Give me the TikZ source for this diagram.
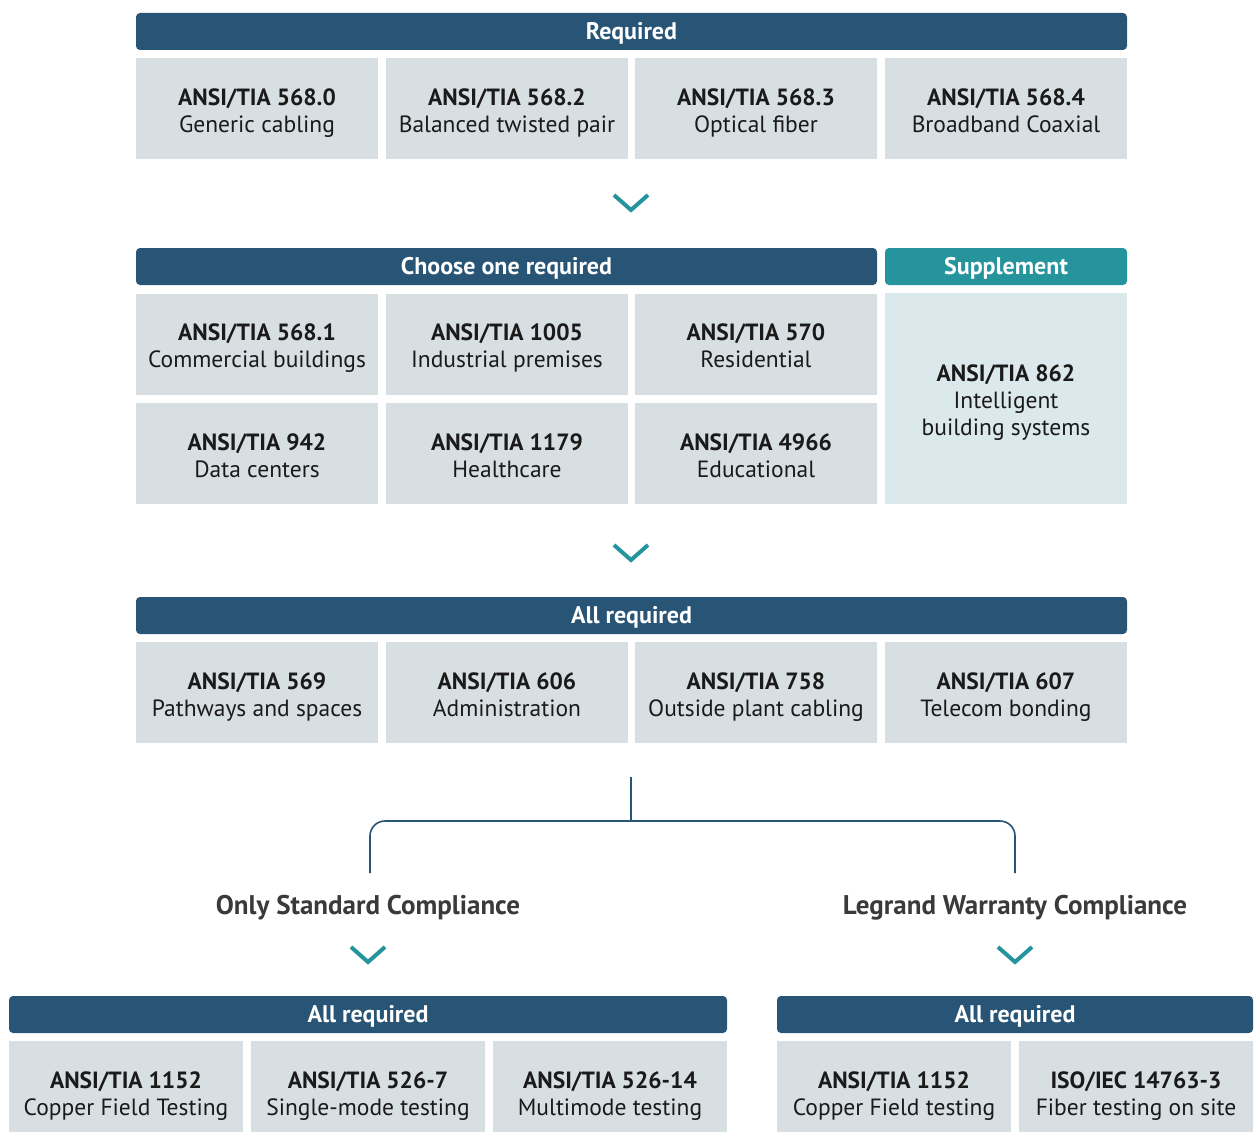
\documentclass[tikz,border=0pt]{standalone}
\usepackage{fontspec}
\setmainfont{PT Sans}
\usetikzlibrary{calc}
\definecolor{hdrblue}{HTML}{285475}
\definecolor{suppteal}{HTML}{26949C}
\definecolor{boxgray}{HTML}{D8DFE2}
\definecolor{boxlight}{HTML}{DCE9EC}
\definecolor{txtdark}{HTML}{1A1A1A}
\definecolor{lbldark}{HTML}{3A3A3A}
\newcommand{\topstrut}{\rule{0pt}{27pt}}
\newcommand{\botstrut}{\rule[-7pt]{0pt}{7pt}}
\newcommand{\stdtxt}[2]{\topstrut\textbf{#1}\\#2\botstrut}
\tikzset{
  header/.style={
    rectangle,
    fill=hdrblue,
    text=white,
    minimum height=37pt,
    inner sep=0pt,
    text height=17pt, text depth=1pt,
    rounded corners=4pt,
    font=\fontsize{24}{27}\selectfont\bfseries},
  stdbox/.style={
    rectangle,
    fill=boxgray,
    text=txtdark,
    minimum width=242pt,
    minimum height=101pt,
    inner sep=0pt,
    align=center,
    font=\fontsize{23.5}{27}\selectfont},
  testbox/.style={stdbox, minimum width=234pt},
  chevron/.style={draw=suppteal, line width=4pt, line join=miter},
  bracket/.style={draw=hdrblue, line width=1.6pt, rounded corners=15pt},
  choice/.style={anchor=base, text=lbldark, font=\fontsize{27}{30}\selectfont\bfseries},
}
\tikzset{>=latex}

\begin{document}
\begin{tikzpicture}[x=1pt,y=-1pt]
\useasboundingbox (0,0) rectangle (1259,1132);
\clip (0,0) rectangle (1259,1132);

% required
\node[header, minimum width=991pt] at (631.5,31.5) (req) {Required};
\node[stdbox] at (257,108.5) (s0) {\stdtxt{ANSI/TIA 568.0}{Generic cabling}};
\node[stdbox] at (507,108.5) (s2) {\stdtxt{ANSI/TIA 568.2}{Balanced twisted pair}};
\node[stdbox] at (756,108.5) (s3) {\stdtxt{ANSI/TIA 568.3}{Optical fiber}};
\node[stdbox] at (1006,108.5) (s4) {\stdtxt{ANSI/TIA 568.4}{Broadband Coaxial}};

\coordinate (chev1) at (631,210);
\draw[chevron] ($(chev1)+(-17,-15)$) -- (chev1) -- ($(chev1)+(17,-15)$);

% choose one
\node[header, minimum width=741pt] at (506.5,266.5) (choose) {Choose one required};
\node[header, minimum width=242pt, fill=suppteal] at (1006,266.5) (supp) {Supplement};
\node[stdbox] at (257,344) (s1) {\stdtxt{ANSI/TIA 568.1}{Commercial buildings}};
\node[stdbox] at (507,344) (ind) {\stdtxt{ANSI/TIA 1005}{Industrial premises}};
\node[stdbox] at (756,344) (res) {\stdtxt{ANSI/TIA 570}{Residential}};
\node[stdbox] at (257,453.5) (dc) {\stdtxt{ANSI/TIA 942}{Data centers}};
\node[stdbox] at (507,453.5) (hc) {\stdtxt{ANSI/TIA 1179}{Healthcare}};
\node[stdbox] at (756,453.5) (edu) {\stdtxt{ANSI/TIA 4966}{Educational}};
\node[stdbox, fill=boxlight, minimum height=211pt] at (1006,398.5) (ibs)
  {\topstrut\textbf{ANSI/TIA 862}\\Intelligent\\building systems\botstrut};

\coordinate (chev2) at (631,560);
\draw[chevron] ($(chev2)+(-17,-15)$) -- (chev2) -- ($(chev2)+(17,-15)$);

% all required
\node[header, minimum width=991pt] at (631.5,615.5) (allreq) {All required};
\node[stdbox] at (257,692.5) (path) {\stdtxt{ANSI/TIA 569}{Pathways and spaces}};
\node[stdbox] at (507,692.5) (adm) {\stdtxt{ANSI/TIA 606}{Administration}};
\node[stdbox] at (756,692.5) (osp) {\stdtxt{ANSI/TIA 758}{Outside plant cabling}};
\node[stdbox] at (1006,692.5) (bond) {\stdtxt{ANSI/TIA 607}{Telecom bonding}};

% split
\coordinate (split) at (631,777);
\coordinate (fork) at (631,821);
\coordinate (onlytop) at (370,873);
\coordinate (legtop) at (1015,873);
\draw[bracket] (split) -- (fork);
\draw[bracket] (onlytop) |- (fork) -| (legtop);

\node[choice] at (368,914) (only) {Only Standard Compliance};
\node[choice] at (1015,914) (legrand) {Legrand Warranty Compliance};

\coordinate (chev3) at (368,962);
\coordinate (chev4) at (1015,962);
\draw[chevron] ($(chev3)+(-17,-15)$) -- (chev3) -- ($(chev3)+(17,-15)$);
\draw[chevron] ($(chev4)+(-17,-15)$) -- (chev4) -- ($(chev4)+(17,-15)$);

% testing
\node[header, minimum width=718pt] at (368,1014.5) (allstd) {All required};
\node[testbox] at (126,1091.5) (cu) {\stdtxt{ANSI/TIA 1152}{Copper Field Testing}};
\node[testbox] at (368,1091.5) (sm) {\stdtxt{ANSI/TIA 526-7}{Single-mode testing}};
\node[testbox] at (610,1091.5) (mm) {\stdtxt{ANSI/TIA 526-14}{Multimode testing}};

\node[header, minimum width=476pt] at (1015,1014.5) (allleg) {All required};
\node[testbox] at (894,1091.5) (cuw) {\stdtxt{ANSI/TIA 1152}{Copper Field testing}};
\node[testbox] at (1136,1091.5) (fib) {\stdtxt{ISO/IEC 14763-3}{Fiber testing on site}};
\end{tikzpicture}
\end{document}
